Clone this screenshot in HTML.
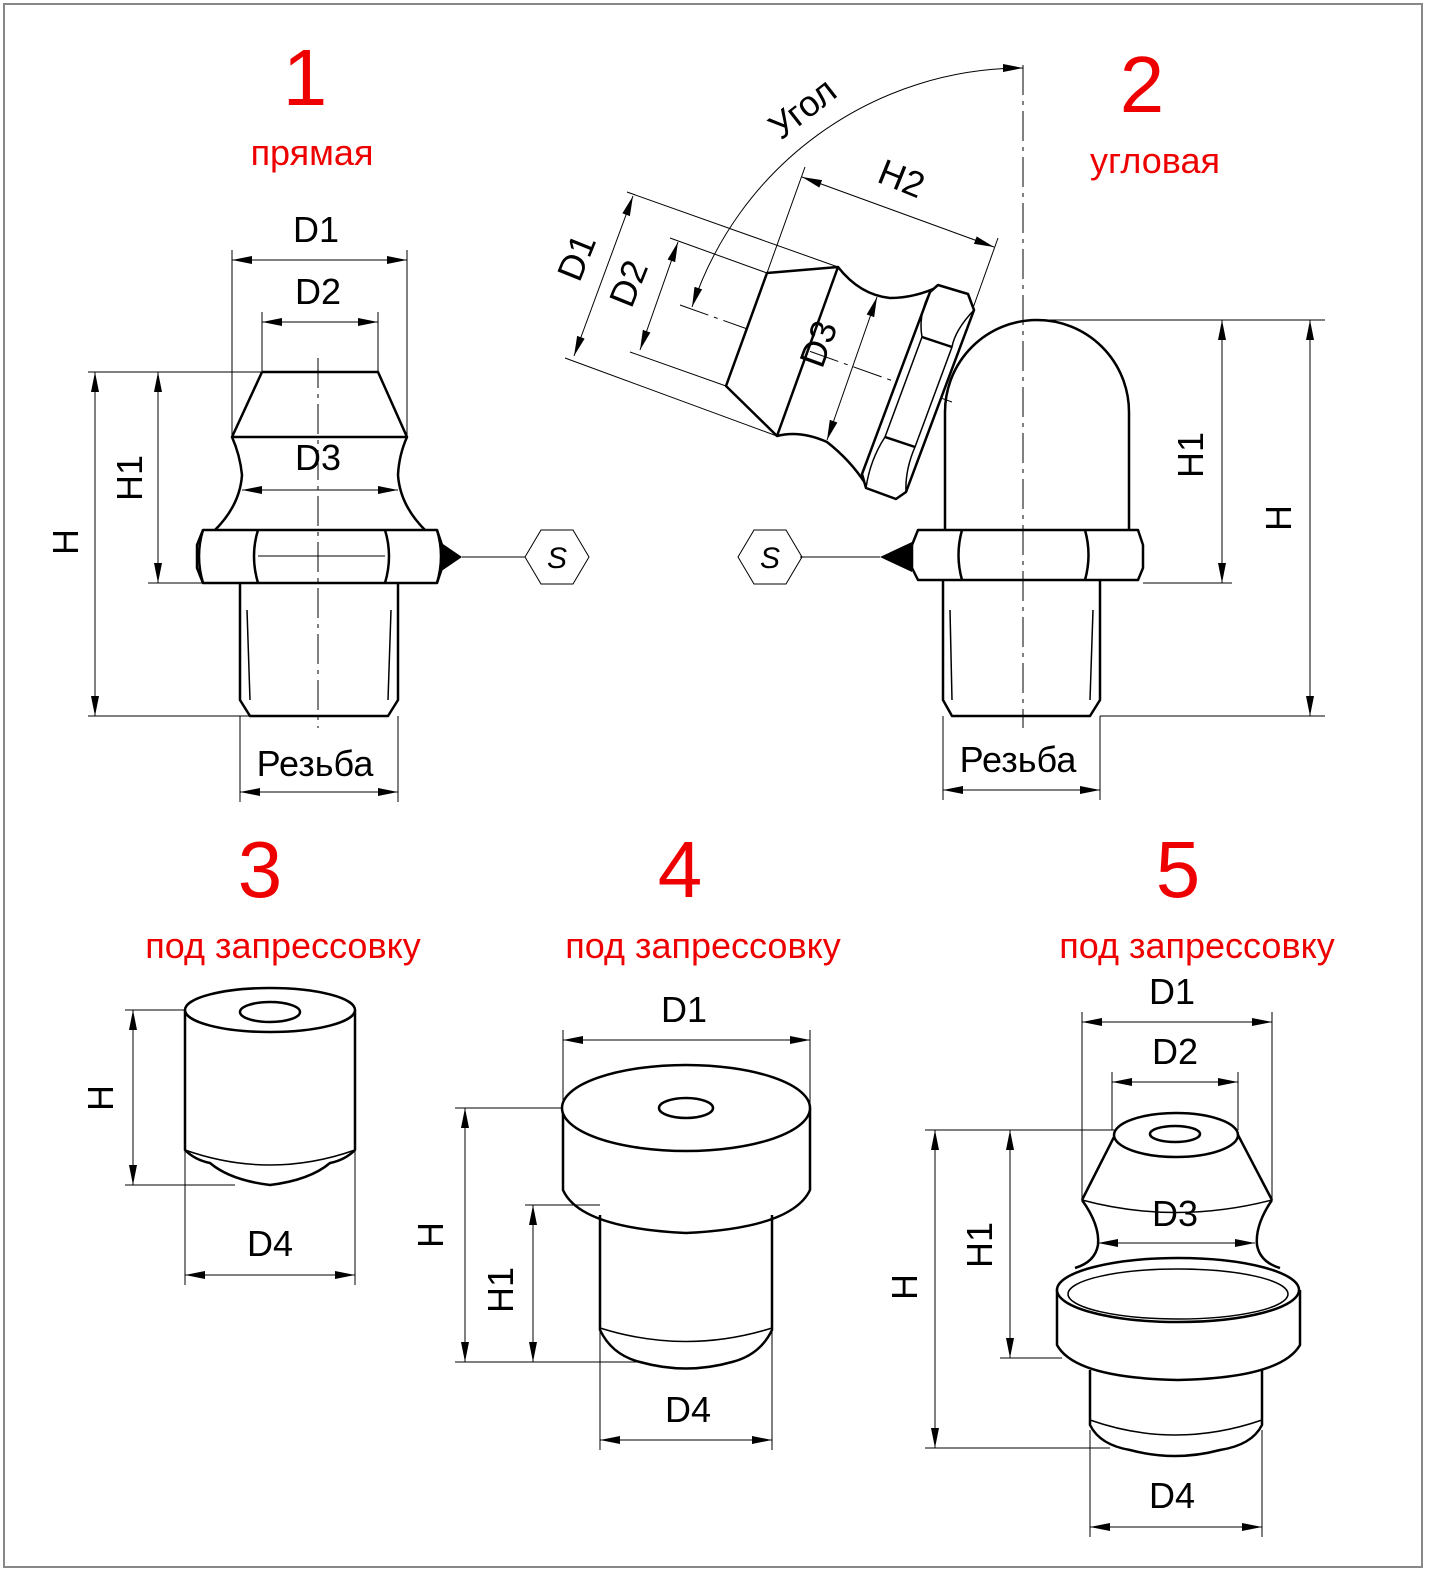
<!DOCTYPE html>
<html><head><meta charset="utf-8"><style>
html,body{margin:0;padding:0;background:#fff}
svg{display:block}
text{font-family:"Liberation Sans",sans-serif}
</style></head><body>
<svg width="1432" height="1579" viewBox="0 0 1432 1579" xmlns="http://www.w3.org/2000/svg">
<defs>
<marker id="a" viewBox="0 0 20 8" refX="20" refY="4" markerWidth="20" markerHeight="8" markerUnits="userSpaceOnUse" orient="auto-start-reverse"><path d="M0,0 L20,4 L0,8 z" fill="#000"/></marker>
</defs>
<rect x="4" y="4" width="1418" height="1563" fill="#fff" stroke="#888" stroke-width="2"/>

<g fill="#e00" text-anchor="middle">
<text x="305" y="105" font-size="80">1</text>
<text x="312" y="165" font-size="36">прямая</text>
<text x="1142" y="112" font-size="80">2</text>
<text x="1155" y="173" font-size="36">угловая</text>
<text x="260" y="897" font-size="80">3</text>
<text x="283" y="958" font-size="36">под запрессовку</text>
<text x="680" y="897" font-size="80">4</text>
<text x="703" y="958" font-size="36">под запрессовку</text>
<text x="1178" y="897" font-size="80">5</text>
<text x="1197" y="958" font-size="36">под запрессовку</text>
</g>

<!-- thin lines -->
<g stroke="#000" stroke-width="1" fill="none">
<!-- fig1 -->
<line x1="318" y1="358" x2="318" y2="728" stroke-dasharray="30,6,4,6"/>
<line x1="232" y1="250" x2="232" y2="437"/><line x1="407" y1="250" x2="407" y2="437"/>
<line x1="262" y1="312" x2="262" y2="372"/><line x1="378" y1="312" x2="378" y2="372"/>
<line x1="88" y1="372" x2="262" y2="372"/><line x1="148" y1="583" x2="240" y2="583"/><line x1="88" y1="716" x2="250" y2="716"/>
<line x1="240" y1="716" x2="240" y2="802"/><line x1="398" y1="716" x2="398" y2="802"/>
<line x1="462" y1="557" x2="525" y2="557"/>
<polygon points="589,557 573,584 541,584 525,557 541,530 573,530"/>
<line x1="232" y1="260" x2="407" y2="260" marker-start="url(#a)" marker-end="url(#a)"/>
<line x1="262" y1="322" x2="378" y2="322" marker-start="url(#a)" marker-end="url(#a)"/>
<line x1="242" y1="490" x2="398" y2="490" marker-start="url(#a)" marker-end="url(#a)"/>
<line x1="158" y1="372" x2="158" y2="583" marker-start="url(#a)" marker-end="url(#a)"/>
<line x1="95" y1="372" x2="95" y2="716" marker-start="url(#a)" marker-end="url(#a)"/>
<line x1="240" y1="792" x2="398" y2="792" marker-start="url(#a)" marker-end="url(#a)"/>
<!-- fig2 -->
<line x1="1023" y1="65" x2="1023" y2="728" stroke-dasharray="30,6,4,6"/>
<line x1="680" y1="305" x2="952" y2="402" stroke-dasharray="30,6,4,6"/>
<line x1="1045" y1="320" x2="1325" y2="320"/><line x1="1143" y1="583" x2="1232" y2="583"/><line x1="1100" y1="716" x2="1325" y2="716"/>
<line x1="943" y1="716" x2="943" y2="800"/><line x1="1100" y1="716" x2="1100" y2="800"/>
<line x1="1222" y1="320" x2="1222" y2="583" marker-start="url(#a)" marker-end="url(#a)"/>
<line x1="1310" y1="320" x2="1310" y2="716" marker-start="url(#a)" marker-end="url(#a)"/>
<line x1="943" y1="790" x2="1100" y2="790" marker-start="url(#a)" marker-end="url(#a)"/>
<line x1="800" y1="557" x2="880" y2="557"/>
<polygon points="802,557 786,584 754,584 738,557 754,530 786,530"/>
<path d="M1023,68 A349,349 0 0 0 692,307" marker-start="url(#a)" marker-end="url(#a)"/>
<line x1="838" y1="267" x2="627" y2="192"/><line x1="777" y1="436" x2="565" y2="358"/>
<line x1="633" y1="196" x2="574" y2="356" marker-start="url(#a)" marker-end="url(#a)"/>
<line x1="767" y1="273" x2="670" y2="238"/><line x1="726" y1="386" x2="630" y2="352"/>
<line x1="678" y1="242" x2="640" y2="350" marker-start="url(#a)" marker-end="url(#a)"/>
<line x1="767" y1="273" x2="805" y2="167"/><line x1="973" y1="308" x2="998" y2="238"/>
<line x1="802" y1="177" x2="994" y2="247" marker-start="url(#a)" marker-end="url(#a)"/>
<line x1="877" y1="297" x2="827" y2="440" marker-start="url(#a)" marker-end="url(#a)"/>
<!-- fig3 -->
<line x1="125" y1="1010" x2="185" y2="1010"/><line x1="125" y1="1185" x2="235" y2="1185"/>
<line x1="185" y1="1150" x2="185" y2="1285"/><line x1="355" y1="1150" x2="355" y2="1285"/>
<line x1="133" y1="1010" x2="133" y2="1185" marker-start="url(#a)" marker-end="url(#a)"/>
<line x1="185" y1="1275" x2="355" y2="1275" marker-start="url(#a)" marker-end="url(#a)"/>
<!-- fig4 -->
<line x1="563" y1="1030" x2="563" y2="1108"/><line x1="810" y1="1030" x2="810" y2="1108"/>
<line x1="455" y1="1108" x2="565" y2="1108"/><line x1="525" y1="1205" x2="600" y2="1205"/><line x1="455" y1="1362" x2="640" y2="1362"/>
<line x1="600" y1="1330" x2="600" y2="1450"/><line x1="772" y1="1330" x2="772" y2="1450"/>
<line x1="563" y1="1040" x2="810" y2="1040" marker-start="url(#a)" marker-end="url(#a)"/>
<line x1="465" y1="1108" x2="465" y2="1362" marker-start="url(#a)" marker-end="url(#a)"/>
<line x1="533" y1="1205" x2="533" y2="1362" marker-start="url(#a)" marker-end="url(#a)"/>
<line x1="600" y1="1440" x2="772" y2="1440" marker-start="url(#a)" marker-end="url(#a)"/>
<!-- fig5 -->
<line x1="1082" y1="1012" x2="1082" y2="1200"/><line x1="1272" y1="1012" x2="1272" y2="1200"/>
<line x1="1112" y1="1072" x2="1112" y2="1130"/><line x1="1238" y1="1072" x2="1238" y2="1130"/>
<line x1="925" y1="1130" x2="1118" y2="1130"/><line x1="1000" y1="1358" x2="1062" y2="1358"/><line x1="925" y1="1448" x2="1110" y2="1448"/>
<line x1="1090" y1="1430" x2="1090" y2="1537"/><line x1="1262" y1="1430" x2="1262" y2="1537"/>
<line x1="1082" y1="1022" x2="1272" y2="1022" marker-start="url(#a)" marker-end="url(#a)"/>
<line x1="1112" y1="1082" x2="1238" y2="1082" marker-start="url(#a)" marker-end="url(#a)"/>
<line x1="1098" y1="1243" x2="1255" y2="1243" marker-start="url(#a)" marker-end="url(#a)"/>
<line x1="935" y1="1130" x2="935" y2="1448" marker-start="url(#a)" marker-end="url(#a)"/>
<line x1="1010" y1="1130" x2="1010" y2="1358" marker-start="url(#a)" marker-end="url(#a)"/>
<line x1="1090" y1="1527" x2="1262" y2="1527" marker-start="url(#a)" marker-end="url(#a)"/>
</g>

<!-- S letters -->
<g font-size="30" font-style="italic" text-anchor="middle" fill="#000">
<text x="557" y="568">S</text><text x="770" y="568">S</text>
</g>

<!-- thick outlines -->
<g stroke="#000" stroke-width="2.5" fill="none" stroke-linejoin="round">
<!-- fig1 -->
<polyline points="262,372 378,372 407,437 232,437 262,372"/>
<path d="M232,437 Q240,455 242,475 Q240,505 215,530"/>
<path d="M407,437 Q399,455 398,475 Q400,505 425,530"/>
<path d="M197,545 L203,530 L437,530 L442,545 L442,568 L437,583 L203,583 L197,568 Z"/>
<path d="M258,530 Q250,556 258,583 M385,530 Q393,556 385,583"/>
<path d="M203,530 Q195,556 203,583 M437,530 Q445,556 437,583"/>
<line x1="258" y1="556" x2="385" y2="556" stroke-width="1"/>
<path d="M240,583 L240,700 L250,716 L388,716 L398,700 L398,583"/>
<line x1="247" y1="610" x2="250" y2="700" stroke-width="1.5"/><line x1="391" y1="610" x2="388" y2="700" stroke-width="1.5"/>
<!-- fig2 body -->
<path d="M945,530 L945,412 A92,92 0 0 1 1129,412 L1129,530"/>
<path d="M912,545 L918,530 L1138,530 L1143,545 L1143,568 L1138,580 L918,580 L912,568 Z"/>
<path d="M962,530 Q955,555 962,580 M1085,530 Q1092,555 1085,580"/>
<path d="M943,580 L943,700 L952,716 L1090,716 L1100,700 L1100,580"/>
<line x1="950" y1="610" x2="952" y2="700" stroke-width="1.5"/><line x1="1093" y1="610" x2="1090" y2="700" stroke-width="1.5"/>
<!-- angled part -->
<polygon points="767,273 838,267 777,436 726,386" fill="#fff"/>
<path d="M838,267 Q860,295 890,298 Q915,298 940,286"/>
<path d="M777,436 Q800,430 827,442 Q850,460 865,483"/>
<polygon points="938,285 968,294 974,310 906,492 896,499 866,488 862,474 930,292" fill="#fff"/>
<line x1="922" y1="337" x2="952" y2="347"/><line x1="885" y1="437" x2="915" y2="447"/>
<path d="M930,292 Q918,315 922,337 L885,437 Q870,460 866,488" stroke-width="1.5"/>
<path d="M974,310 Q955,330 952,347 L915,447 Q905,470 906,492" stroke-width="1.5"/>
<!-- fig3 -->
<path d="M185,1010 L185,1150 Q195,1160 210,1163 Q230,1180 270,1185 Q310,1180 330,1163 Q345,1160 355,1150 L355,1010"/>
<ellipse cx="270" cy="1010" rx="85" ry="22" fill="#fff"/>
<path d="M185,1150 Q270,1180 355,1150" stroke-width="1.5"/>
<ellipse cx="270" cy="1012" rx="30" ry="10"/>
<!-- fig4 -->
<path d="M600,1215 L600,1330 Q612,1355 640,1362 Q686,1375 732,1362 Q760,1355 772,1330 L772,1215"/>
<path d="M600,1328 Q686,1355 772,1328" stroke-width="1.5"/>
<path d="M563,1108 L563,1190 Q580,1228 686,1233 Q792,1228 810,1190 L810,1108"/>
<ellipse cx="686" cy="1108" rx="124" ry="43" fill="#fff"/>
<ellipse cx="686" cy="1108" rx="27" ry="10"/>
<!-- fig5 -->
<path d="M1090,1370 L1090,1425 Q1100,1445 1130,1450 Q1175,1462 1220,1450 Q1252,1445 1262,1425 L1262,1370"/>
<path d="M1090,1420 Q1175,1450 1262,1420" stroke-width="1.5"/>
<path d="M1057,1290 L1057,1345 Q1075,1378 1178,1380 Q1281,1378 1300,1345 L1300,1290"/>
<ellipse cx="1178" cy="1290" rx="121" ry="32" fill="#fff"/>
<ellipse cx="1178" cy="1294" rx="110" ry="25" stroke-width="1.5"/>
<path d="M1082,1200 Q1100,1225 1098,1245 Q1095,1262 1075,1268"/>
<path d="M1272,1200 Q1255,1225 1257,1245 Q1260,1262 1280,1268"/>
<path d="M1082,1200 L1115,1135 M1272,1200 L1238,1135"/>
<path d="M1082,1200 Q1175,1225 1272,1200" stroke-width="1.5"/>
<ellipse cx="1176" cy="1135" rx="62" ry="22" fill="#fff"/>
<ellipse cx="1175" cy="1134" rx="25" ry="8"/>
</g>
<!-- chamfer triangles -->
<polygon points="440,542 462,557 440,572" fill="#000"/>
<polygon points="912,542 880,557 912,572" fill="#000"/>

<!-- dim labels -->
<g font-size="36" fill="#000" text-anchor="middle">
<text x="316" y="242">D1</text><text x="318" y="304">D2</text><text x="318" y="470">D3</text>
<text x="315" y="776">Резьба</text><text x="1018" y="772">Резьба</text>
<text x="270" y="1256">D4</text>
<text x="684" y="1022">D1</text><text x="688" y="1422">D4</text>
<text x="1172" y="1004">D1</text><text x="1175" y="1064">D2</text><text x="1175" y="1226">D3</text><text x="1172" y="1508">D4</text>
<text transform="translate(142,478) rotate(-90)">H1</text>
<text transform="translate(78,542) rotate(-90)">H</text>
<text transform="translate(1203,455) rotate(-90)">H1</text>
<text transform="translate(1291,518) rotate(-90)">H</text>
<text transform="translate(113,1098) rotate(-90)">H</text>
<text transform="translate(443,1235) rotate(-90)">H</text>
<text transform="translate(513,1290) rotate(-90)">H1</text>
<text transform="translate(917,1287) rotate(-90)">H</text>
<text transform="translate(992,1245) rotate(-90)">H1</text>
<text transform="translate(810,118) rotate(-38)">Угол</text>
<text transform="translate(897,190) rotate(22)">H2</text>
<text transform="translate(588,262) rotate(-68)">D1</text>
<text transform="translate(640,288) rotate(-68)">D2</text>
<text transform="translate(830,348) rotate(-70)">D3</text>
</g>
</svg>
</body></html>
